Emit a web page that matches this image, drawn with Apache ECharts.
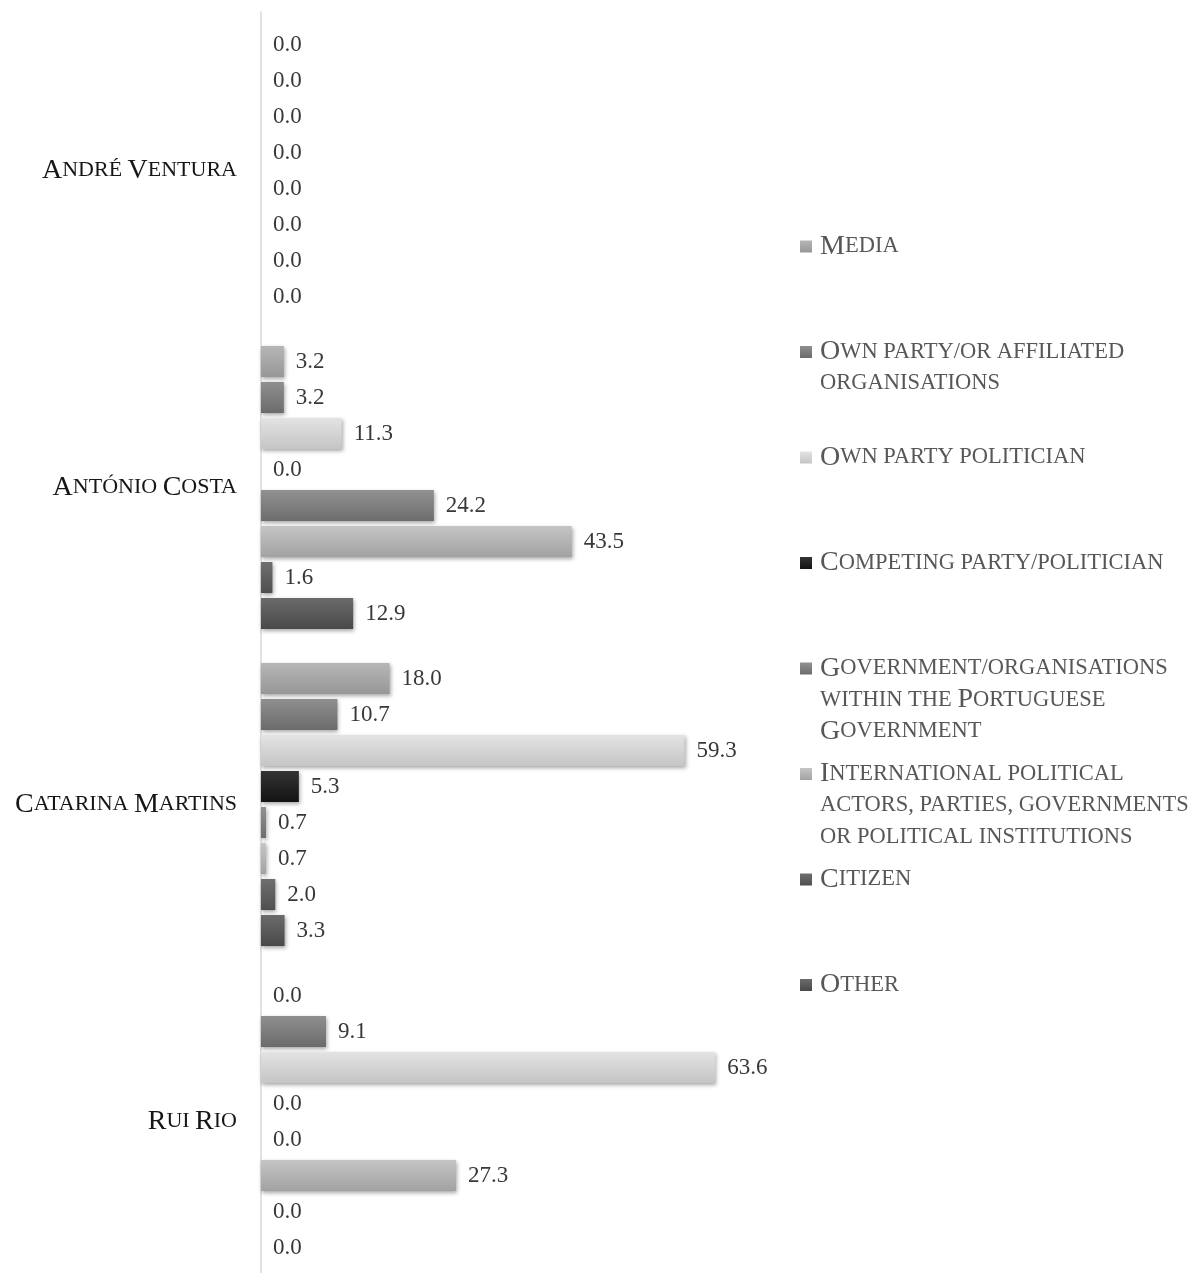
<!DOCTYPE html>
<html>
<head>
<meta charset="utf-8">
<title>Sources by politician</title>
<script src="https://cdn.jsdelivr.net/npm/echarts@6/dist/echarts.min.js"></script>
<style>
  html, body { margin: 0; padding: 0; background: #ffffff; overflow: hidden; }
  /* the plot runs slightly past the bottom edge of the window */
  #chart { width: 1193px; height: 1290px; }
</style>
</head>
<body>
<div id="chart"></div>
<script>
// Politicians (top to bottom)
const categories = ['André Ventura', 'António Costa', 'Catarina Martins', 'Rui Rio'];

// Source types, in legend order
const seriesNames = [
  'Media',
  'Own party/or affiliated organisations',
  'Own party politician',
  'Competing party/politician',
  'Government/organisations within the Portuguese Government',
  'International political actors, parties, governments or political institutions',
  'Citizen',
  'Other'
];

// Legend wording broken into lines
const legendLines = [
  ['Media'],
  ['Own party/or affiliated', 'organisations'],
  ['Own party politician'],
  ['Competing party/politician'],
  ['Government/organisations', 'within the Portuguese', 'Government'],
  ['International political', 'actors, parties, governments', 'or political institutions'],
  ['Citizen'],
  ['Other']
];

// Shares (%) per politician, one array per source type
const media          = [0.0, 3.2, 18.0, 0.0];
const ownOrgs        = [0.0, 3.2, 10.7, 9.1];
const ownPolitician  = [0.0, 11.3, 59.3, 63.6];
const competing      = [0.0, 0.0, 5.3, 0.0];
const government     = [0.0, 24.2, 0.7, 0.0];
const international  = [0.0, 43.5, 0.7, 27.3];
const citizen        = [0.0, 1.6, 2.0, 0.0];
const other          = [0.0, 12.9, 3.3, 0.0];

const seriesValues = [media, ownOrgs, ownPolitician, competing, government, international, citizen, other];

// Top / bottom shades of each bar gradient
const shades = [
  ['#b6b6b6', '#979797'],
  ['#8f8f8f', '#6b6b6b'],
  ['#e3e3e3', '#c5c5c5'],
  ['#343434', '#131313'],
  ['#919191', '#6d6d6d'],
  ['#c5c5c5', '#a2a2a2'],
  ['#6f6f6f', '#4f4f4f'],
  ['#6b6b6b', '#494949']
];

const FONT = "'Liberation Serif', 'Times New Roman', serif";

// Render a string as small caps with rich-text runs: capitals in style `big`, the rest in `small`
function smallCaps(str, big, small) {
  let out = '';
  let cur = null, buf = '';
  for (const ch of str) {
    const isCap = ch !== ch.toLowerCase() && ch === ch.toUpperCase();
    const st = isCap ? big : small;
    if (st !== cur) {
      if (buf) out += '{' + cur + '|' + buf + '}';
      cur = st; buf = '';
    }
    buf += ch.toUpperCase();
  }
  if (buf) out += '{' + cur + '|' + buf + '}';
  return out;
}

const chart = echarts.init(document.getElementById('chart'), null, { renderer: 'canvas' });

const series = seriesNames.map((name, i) => ({
  name: name,
  type: 'bar',
  data: seriesValues[i],
  barCategoryGap: '10.7%',
  barGap: '16%',
  itemStyle: {
    color: new echarts.graphic.LinearGradient(0, 0, 0, 1, [
      { offset: 0, color: shades[i][0] },
      { offset: 1, color: shades[i][1] }
    ]),
    shadowBlur: 4,
    shadowColor: 'rgba(0,0,0,0.35)',
    shadowOffsetX: 1,
    shadowOffsetY: 2
  },
  label: {
    show: true,
    position: 'right',
    distance: 12,
    fontFamily: FONT,
    fontSize: 23,
    color: '#383838',
    formatter: p => p.value.toFixed(1)
  },
  emphasis: { disabled: true }
}));

// One legend block per source type, stacked down the right side;
// extra top padding keeps each swatch level with the first text line
const LH = 31.5;
const legendRich = {
  c: { fontFamily: FONT, fontSize: 28, color: '#575757', lineHeight: LH },
  s: { fontFamily: FONT, fontSize: 22.5, color: '#575757', lineHeight: LH }
};
const legends = seriesNames.map((name, i) => {
  const n = legendLines[i].length;
  const iconCenter = 244 + i * 105.5;
  return {
    left: 800,
    top: iconCenter - 11.5,
    orient: 'vertical',
    padding: 0,
    icon: 'rect',
    itemWidth: 12,
    itemHeight: 12,
    itemGap: 0,
    itemStyle: { shadowBlur: 0, shadowOffsetX: 0, shadowOffsetY: 0 },
    data: [{ name: name, textStyle: { padding: [(n - 1) * LH, 0, 0, 3] } }],
    formatter: () => legendLines[i].map(l => smallCaps(l, 'c', 's')).join('\n'),
    textStyle: { rich: legendRich }
  };
});

chart.setOption({
  backgroundColor: '#ffffff',
  animation: false,
  legend: legends,
  grid: { left: 261, top: 12, width: 500, height: 1268, containLabel: false },
  xAxis: {
    type: 'value',
    min: 0,
    max: 70,
    show: false
  },
  yAxis: {
    type: 'category',
    data: categories,
    inverse: true,
    axisLine: { show: true, lineStyle: { color: '#d9d9d9', width: 1.5 } },
    axisTick: { show: false },
    axisLabel: {
      margin: 24,
      formatter: v => smallCaps(v, 'c', 's'),
      rich: {
        c: { fontFamily: FONT, fontSize: 28, color: '#161616' },
        s: { fontFamily: FONT, fontSize: 22, color: '#161616' }
      }
    }
  },
  series: series
});
</script>
</body>
</html>
